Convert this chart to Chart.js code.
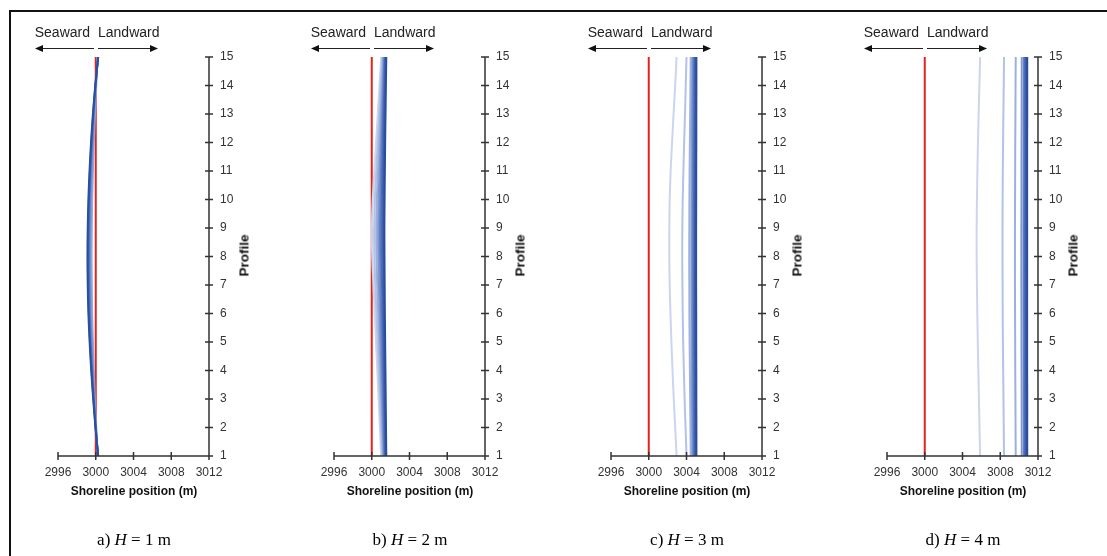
<!DOCTYPE html>
<html>
<head>
<meta charset="utf-8">
<script src="https://cdn.jsdelivr.net/npm/chart.js@4.4.1/dist/chart.umd.min.js"></script>
<style>
  html, body { margin: 0; padding: 0; background: #fff; }
  body { width: 1107px; height: 556px; position: relative; overflow: hidden; font-family: "Liberation Sans", Arial, sans-serif; }
  .frame { position: absolute; left: 9px; top: 10px; width: 1200px; height: 600px; border-left: 2px solid #111; border-top: 2px solid #111; }
  canvas { position: absolute; top: 20px; }
  .t { position: absolute; white-space: nowrap; color: #222; }
  .sea { font-size: 14px; top: 24px; text-align: right; width: 80px; }
  .land { font-size: 14px; top: 24px; }
  .xt { font-size: 12px; font-weight: bold; top: 484px; width: 200px; text-align: center; color: #111; }
  .yt { font-size: 13.5px; font-weight: bold; top: 248px; width: 60px; text-align: center; transform: rotate(-90deg); color: #111; }
  .cap { font-family: "Liberation Serif", "Times New Roman", serif; font-size: 17px; top: 530px; width: 200px; text-align: center; color: #000; }
  svg { position: absolute; left: 0; top: 0; }
</style>
</head>
<body>
<div class="frame"></div>
<svg id="arrows" width="1107" height="556"></svg>
<canvas id="c0" width="260" height="490"></canvas>
<canvas id="c1" width="260" height="490"></canvas>
<canvas id="c2" width="260" height="490"></canvas>
<canvas id="c3" width="260" height="490"></canvas>
<script>
// ---------- data ----------
const profiles = [1,2,3,4,5,6,7,8,9,10,11,12,13,14,15];
const xTickValues = [2996, 3000, 3004, 3008, 3012];
const initialShoreline = [3000,3000,3000,3000,3000,3000,3000,3000,3000,3000,3000,3000,3000,3000,3000];

// a) H = 1 m  (light -> dark)
const a1 = [3000.20,3000.05,2999.90,2999.80,2999.70,2999.62,2999.58,2999.56,2999.58,2999.62,2999.70,2999.80,2999.92,3000.05,3000.20];
const a2 = [3000.22,3000.02,2999.85,2999.70,2999.57,2999.47,2999.42,2999.40,2999.42,2999.47,2999.56,2999.68,2999.83,3000.00,3000.22];
const a3 = [3000.24,3000.00,2999.80,2999.62,2999.47,2999.36,2999.30,2999.28,2999.30,2999.36,2999.46,2999.60,2999.77,2999.98,3000.24];
const a4 = [3000.25,2999.98,2999.76,2999.56,2999.40,2999.28,2999.21,2999.19,2999.21,2999.28,2999.39,2999.54,2999.73,2999.96,3000.25];
const a5 = [3000.26,2999.97,2999.73,2999.52,2999.35,2999.22,2999.15,2999.12,2999.15,2999.22,2999.34,2999.50,2999.70,2999.95,3000.26];

// b) H = 2 m
const b1 = [3001.00,3000.86,3000.73,3000.59,3000.45,3000.32,3000.18,3000.05,3000.02,3000.10,3000.28,3000.46,3000.64,3000.82,3001.00];
const b2 = [3001.10,3000.98,3000.86,3000.74,3000.62,3000.50,3000.38,3000.28,3000.26,3000.33,3000.48,3000.63,3000.79,3000.94,3001.10];
const b3 = [3001.18,3001.08,3000.98,3000.88,3000.78,3000.68,3000.58,3000.50,3000.48,3000.54,3000.66,3000.79,3000.92,3001.05,3001.18];
const b4 = [3001.26,3001.17,3001.08,3001.00,3000.92,3000.84,3000.76,3000.70,3000.68,3000.73,3000.83,3000.94,3001.04,3001.15,3001.26];
const b5 = [3001.33,3001.26,3001.19,3001.12,3001.05,3000.99,3000.93,3000.88,3000.87,3000.90,3000.98,3001.06,3001.15,3001.24,3001.33];
const b6 = [3001.40,3001.35,3001.29,3001.24,3001.19,3001.14,3001.09,3001.05,3001.04,3001.07,3001.12,3001.18,3001.25,3001.33,3001.40];
const b7 = [3001.47,3001.43,3001.39,3001.35,3001.31,3001.27,3001.24,3001.21,3001.20,3001.22,3001.26,3001.31,3001.36,3001.42,3001.47];
const b8 = [3001.54,3001.51,3001.48,3001.45,3001.42,3001.39,3001.37,3001.35,3001.34,3001.36,3001.39,3001.42,3001.46,3001.50,3001.54];

// c) H = 3 m
const c1 = [3002.95,3002.80,3002.65,3002.52,3002.40,3002.30,3002.22,3002.18,3002.18,3002.22,3002.32,3002.47,3002.63,3002.80,3002.95];
const c2 = [3004.00,3003.90,3003.80,3003.72,3003.65,3003.60,3003.57,3003.55,3003.56,3003.60,3003.67,3003.75,3003.84,3003.92,3004.00];
const c3 = [3004.45,3004.42,3004.39,3004.36,3004.33,3004.31,3004.30,3004.29,3004.30,3004.31,3004.33,3004.36,3004.39,3004.42,3004.45];
const c4 = [3004.62,3004.60,3004.58,3004.56,3004.54,3004.53,3004.52,3004.52,3004.52,3004.53,3004.54,3004.56,3004.58,3004.60,3004.62];
const c5 = [3004.74,3004.73,3004.72,3004.70,3004.69,3004.68,3004.68,3004.67,3004.68,3004.68,3004.69,3004.70,3004.72,3004.73,3004.74];
const c6 = [3004.85,3004.84,3004.83,3004.82,3004.81,3004.80,3004.80,3004.80,3004.80,3004.80,3004.81,3004.82,3004.83,3004.84,3004.85];
const c7 = [3004.95,3004.94,3004.94,3004.93,3004.92,3004.92,3004.91,3004.91,3004.91,3004.92,3004.92,3004.93,3004.94,3004.94,3004.95];
const c8 = [3005.05,3005.05,3005.04,3005.04,3005.03,3005.03,3005.02,3005.02,3005.02,3005.03,3005.03,3005.04,3005.04,3005.05,3005.05];

// d) H = 4 m
const d1 = [3005.87,3005.80,3005.74,3005.68,3005.62,3005.57,3005.53,3005.50,3005.50,3005.53,3005.58,3005.64,3005.71,3005.79,3005.87];
const d2 = [3008.40,3008.37,3008.34,3008.31,3008.28,3008.26,3008.25,3008.24,3008.24,3008.25,3008.27,3008.30,3008.33,3008.37,3008.40];
const d3 = [3009.64,3009.62,3009.61,3009.59,3009.58,3009.57,3009.56,3009.56,3009.56,3009.57,3009.58,3009.59,3009.61,3009.62,3009.64];
const d4 = [3010.28,3010.27,3010.27,3010.26,3010.25,3010.25,3010.24,3010.24,3010.24,3010.25,3010.25,3010.26,3010.27,3010.27,3010.28];
const d5 = [3010.50,3010.50,3010.49,3010.49,3010.48,3010.48,3010.47,3010.47,3010.47,3010.48,3010.48,3010.49,3010.49,3010.50,3010.50];
const d6 = [3010.62,3010.62,3010.61,3010.61,3010.61,3010.60,3010.60,3010.60,3010.60,3010.60,3010.61,3010.61,3010.61,3010.62,3010.62];
const d7 = [3010.74,3010.74,3010.74,3010.73,3010.73,3010.73,3010.72,3010.72,3010.72,3010.73,3010.73,3010.73,3010.74,3010.74,3010.74];
const d8 = [3010.86,3010.86,3010.86,3010.85,3010.85,3010.85,3010.85,3010.85,3010.85,3010.85,3010.85,3010.85,3010.86,3010.86,3010.86];

const panelSeries = [
  [a1,a2,a3,a4,a5],
  [b1,b2,b3,b4,b5,b6,b7,b8],
  [c1,c2,c3,c4,c5,c6,c7,c8],
  [d1,d2,d3,d4,d5,d6,d7,d8]
];
const panelCaptions = ["a)", "b)", "c)", "d)"];
const waveHeights = ["1", "2", "3", "4"];

// ---------- styles ----------
const blues8 = ["#cbd5ee","#b3c2e6","#9bb0dd","#7f98d1","#6582c5","#4c6cb8","#3a5cab","#2b4d9d"];
const blues5 = ["#93a9da","#7690cd","#5879c0","#3d61b0","#2b4f9f"];
const redColor = "#e0231c";
const panelDx = [0, 276, 553, 829];

const crossAxes = {
  id: 'crossAxes',
  afterDatasetsDraw(chart) {
    const { ctx, chartArea: a, scales: { x, y } } = chart;
    ctx.save();
    ctx.strokeStyle = '#333';
    ctx.lineWidth = 1.5;
    ctx.beginPath();
    ctx.moveTo(a.left, a.bottom); ctx.lineTo(a.right, a.bottom);
    ctx.moveTo(a.right, a.top); ctx.lineTo(a.right, a.bottom);
    x.ticks.forEach(t => { const px = x.getPixelForValue(t.value); ctx.moveTo(px, a.bottom - 4); ctx.lineTo(px, a.bottom + 4); });
    y.ticks.forEach(t => { const py = y.getPixelForValue(t.value); ctx.moveTo(a.right - 4, py); ctx.lineTo(a.right + 4, py); });
    ctx.stroke();
    ctx.restore();
  }
};

function toPoints(arr) { return arr.map((v, i) => ({ x: v, y: profiles[i] })); }

panelSeries.forEach((series, p) => {
  const cv = document.getElementById('c' + p);
  cv.style.left = (20 + panelDx[p]) + 'px';
  const palette = series.length === 5 ? blues5 : blues8;
  const blueSets = series.map((s, i) => ({
    data: toPoints(s),
    borderColor: palette[i],
    borderWidth: 2,
    showLine: true,
    pointRadius: 0,
    tension: 0.3
  })).reverse(); // darkest first -> drawn on top
  const datasets = blueSets.concat([{
    data: toPoints(initialShoreline),
    borderColor: redColor,
    borderWidth: 2,
    showLine: true,
    pointRadius: 0
  }]);
  new Chart(cv, {
    type: 'scatter',
    data: { datasets },
    plugins: [crossAxes],
    options: {
      responsive: false,
      animation: false,
      devicePixelRatio: 1,
      layout: { padding: { left: 38, top: 37, right: 0, bottom: 0 } },
      plugins: { legend: { display: false }, tooltip: { enabled: false } },
      scales: {
        x: {
          type: 'linear', min: 2996, max: 3012,
          afterBuildTicks(s) { s.ticks = xTickValues.map(v => ({ value: v })); },
          afterFit(s) { s.height = 54; },
          grid: { display: false, drawTicks: false, tickLength: 0 },
          border: { display: false },
          ticks: { padding: 9, color: '#333', font: { family: 'Liberation Sans', size: 12 }, callback: v => String(v) }
        },
        y: {
          type: 'linear', position: 'right', min: 1, max: 15,
          afterBuildTicks(s) { s.ticks = profiles.map(v => ({ value: v })); },
          afterFit(s) { s.width = 71; },
          grid: { display: false, drawTicks: false, tickLength: 0 },
          border: { display: false },
          ticks: { padding: 11, color: '#333', font: { family: 'Liberation Sans', size: 12 }, callback: v => String(v) }
        }
      }
    }
  });

  const dx = panelDx[p];
  const add = (cls, html, left) => {
    const d = document.createElement('div');
    d.className = 't ' + cls; d.innerHTML = html; d.style.left = left + 'px';
    document.body.appendChild(d);
  };
  add('sea', 'Seaward', 10 + dx);
  add('land', 'Landward', 98 + dx);
  add('xt', 'Shoreline position (m)', 34 + dx);
  add('yt', 'Profile', 214 + dx);
  add('cap', panelCaptions[p] + ' <i>H</i> = ' + waveHeights[p] + ' m', 34 + dx);

  // arrows
  const svg = document.getElementById('arrows');
  const y = 48.5;
  svg.insertAdjacentHTML('beforeend',
    `<line x1="${42+dx}" y1="${y}" x2="${94+dx}" y2="${y}" stroke="#222" stroke-width="1"/>` +
    `<polygon points="${35+dx},${y} ${43+dx},${y-3.5} ${43+dx},${y+3.5}" fill="#111"/>` +
    `<line x1="${98+dx}" y1="${y}" x2="${151+dx}" y2="${y}" stroke="#222" stroke-width="1"/>` +
    `<polygon points="${158+dx},${y} ${150+dx},${y-3.5} ${150+dx},${y+3.5}" fill="#111"/>`);
});
</script>
</body>
</html>
